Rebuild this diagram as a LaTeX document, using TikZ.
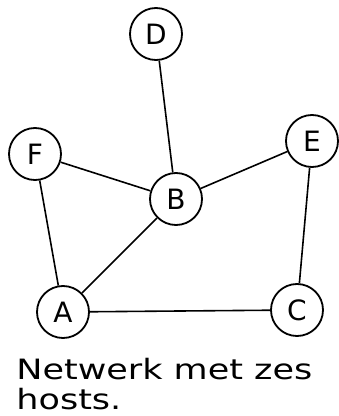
\documentclass[tikz,border=0pt]{standalone}
\usepackage{fontspec}
\setmainfont{DejaVu Sans}
\usetikzlibrary{calc}
\tikzset{host/.style={circle,draw,line width=1.8pt,minimum size=52pt,inner sep=0pt,
  font=\fontsize{28}{28}\selectfont},
 link/.style={line width=1.6pt},
 caption/.style={font=\fontsize{28}{30}\selectfont,align=left,anchor=base west}}

\begin{document}
\begin{tikzpicture}[x=1pt,y=1pt]
\useasboundingbox (0,0) rectangle (339,416);
\node[host] (D) at (156,382) {D};
\node[host] (F) at (35,262) {F};
\node[host] (B) at (176,217) {B};
\node[host] (E) at (312,275) {E};
\node[host] (A) at (63,104) {A};
\node[host] (C) at (297,106) {C};
\draw[link] (D)--(B);
\draw[link] (F)--(B);
\draw[link] (B)--(E);
\draw[link] (F)--(A);
\draw[link] (B)--(A);
\draw[link] (A)--(C);
\draw[link] (E)--(C);
\node[caption,xscale=1.25,transform shape] (cap) at (12,36) {Netwerk met zes};
\node[caption,xscale=1.25,transform shape] (cap2) at (12,6) {hosts.};
\end{tikzpicture}
\end{document}
